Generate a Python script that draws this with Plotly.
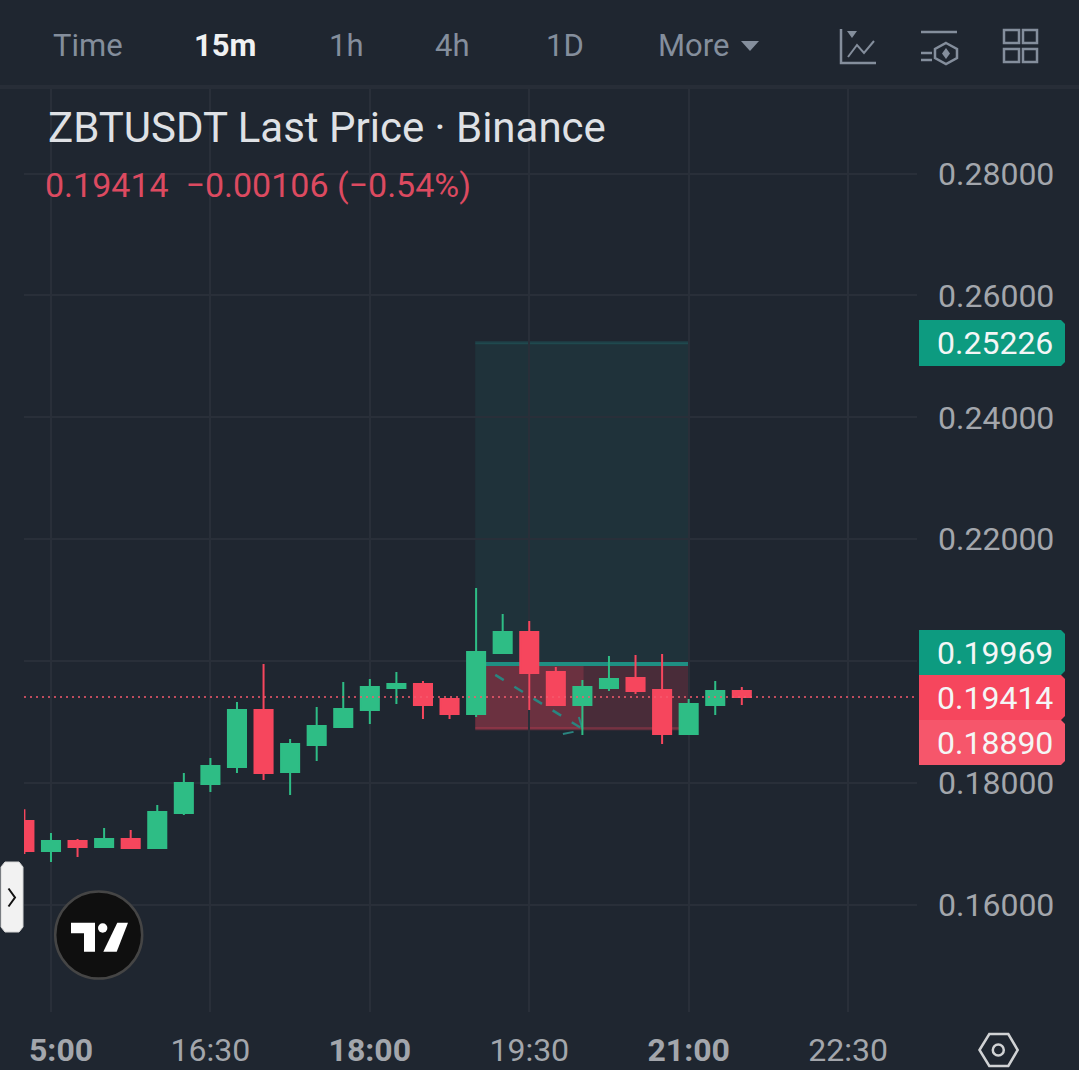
import plotly.graph_objects as go

W, H = 1079, 1070
DAY = "2025-01-01 "

# candles
candle_times = ["14:45", "15:00", "15:15", "15:30", "15:45", "16:00", "16:15", "16:30", "16:45", "17:00",
                "17:15", "17:30", "17:45", "18:00", "18:15", "18:30", "18:45", "19:00", "19:15", "19:30",
                "19:45", "20:00", "20:15", "20:30", "20:45", "21:00", "21:15", "21:30"]
opens = [0.17378, 0.16886, 0.17050, 0.16951, 0.17083, 0.16935, 0.17509, 0.17985, 0.18264, 0.19199,
         0.18182, 0.18625, 0.18920, 0.19199, 0.19560, 0.19626, 0.19380, 0.19134, 0.20135, 0.20479,
         0.19823, 0.19281, 0.19560, 0.19724, 0.19527, 0.18805, 0.19281, 0.19511]
closes = [0.16886, 0.17050, 0.16951, 0.17083, 0.16935, 0.17526, 0.18002, 0.18280, 0.19199, 0.18166,
          0.18641, 0.18937, 0.19216, 0.19577, 0.19626, 0.19281, 0.19134, 0.20151, 0.20479, 0.19806,
          0.19281, 0.19577, 0.19708, 0.19511, 0.18805, 0.19298, 0.19511, 0.19414]
highs = [0.17570, 0.17181, 0.17083, 0.17263, 0.17230, 0.17641, 0.18166, 0.18412, 0.19330, 0.19954,
         0.18724, 0.19249, 0.19659, 0.19708, 0.19823, 0.19675, 0.19380, 0.21201, 0.20774, 0.20660,
         0.19905, 0.19691, 0.20085, 0.20102, 0.20118, 0.19380, 0.19675, 0.19577]
lows = [0.16837, 0.16705, 0.16787, 0.16951, 0.16935, 0.16935, 0.17476, 0.17854, 0.18166, 0.18051,
        0.17805, 0.18362, 0.18920, 0.18970, 0.19298, 0.19052, 0.19052, 0.19084, 0.20135, 0.19199,
        0.19265, 0.18789, 0.19511, 0.19462, 0.18641, 0.18789, 0.19117, 0.19281]

price_ticks = [0.16, 0.18, 0.20, 0.22, 0.24, 0.26, 0.28]
price_labels = ["0.16000", "0.18000", "", "0.22000", "0.24000", "0.26000", "0.28000"]
time_ticks = ["15:00", "16:30", "18:00", "19:30", "21:00", "22:30"]
time_labels = ["", "16:30", "<b>18:00</b>", "19:30", "<b>21:00</b>", "22:30"]
menu_items = ["Time", "<b>15m</b>", "1h", "4h", "1D", "More"]

target_price = 0.25226
entry_price = 0.19969
stop_price = 0.18890
last_price = 0.19414

BG = "#1f2630"
GRID = "#292f39"
UP = "#2ebd85"
DOWN = "#f6465d"
GRAY = "#848e9c"
AXIS_TXT = "#a3a6ac"
FONT = "Roboto"


def px(x):
    return x / W


def py(y):
    return 1 - y / H


def t(hhmm):
    return DAY + hhmm


def path(points, close=True):
    s = "M " + " L ".join(f"{px(x):.5f},{py(y):.5f}" for x, y in points)
    return s + " Z" if close else s


def icon(points, close=True, fill=None, line=GRAY, width=2.5):
    return dict(type="path", xref="paper", yref="paper", path=path(points, close), fillcolor=fill,
                line=dict(color=line, width=width), layer="above")


def circle(cx, cy, r, fill=None, line=None, width=0):
    return dict(type="circle", xref="paper", yref="paper", x0=px(cx - r), x1=px(cx + r), y0=py(cy + r), y1=py(cy - r),
                fillcolor=fill, line=dict(color=line, width=width), layer="above")


def label(text, x, y, size, color, anchor="center"):
    return dict(text=text, xref="paper", yref="paper", x=px(x), y=py(y), xanchor=anchor, yanchor="middle",
                showarrow=False, font=dict(family=FONT, size=size, color=color))


def tag(text, top, bottom, color):
    pts = [(919, top), (1061, top), (1065, top + 4), (1065, bottom - 4), (1061, bottom), (919, bottom)]
    return icon(pts, fill=color, line=color, width=0), label(text, 995, (top + bottom) / 2, 32, "#f4f6f6")


fig = go.Figure(go.Candlestick(
    x=[t(v) for v in candle_times],
    open=opens, high=highs, low=lows, close=closes,
    increasing=dict(line=dict(color=UP, width=2), fillcolor=UP),
    decreasing=dict(line=dict(color=DOWN, width=2), fillcolor=DOWN),
    whiskerwidth=0,
    hoverinfo="skip",
))

# long position tool, arrow and last price line
shapes = [
    dict(type="rect", x0=t("18:59:30"), x1=t("21:00:40"), y0=entry_price, y1=target_price,
         fillcolor="rgba(32,178,170,0.09)", line_width=0, layer="below"),
    dict(type="line", x0=t("18:59:30"), x1=t("21:00:40"), y0=target_price, y1=target_price,
         line=dict(color="rgba(32,178,170,0.18)", width=3), layer="below"),
    dict(type="rect", x0=t("18:59:30"), x1=t("21:00:40"), y0=stop_price, y1=entry_price,
         fillcolor="rgba(246,70,93,0.2)", line_width=0, layer="below"),
    dict(type="rect", x0=t("18:59:30"), x1=t("20:00:40"), y0=stop_price, y1=entry_price,
         fillcolor="rgba(246,70,93,0.2)", line_width=0, layer="below"),
    dict(type="line", x0=t("18:59:30"), x1=t("21:00:40"), y0=stop_price, y1=stop_price,
         line=dict(color="rgba(246,70,93,0.3)", width=3), layer="below"),
    dict(type="line", x0=t("19:00"), x1=t("20:00"), y0=entry_price, y1=stop_price,
         line=dict(color="#2a8580", width=2.5, dash="10px,12.5px"), layer="below"),
    dict(type="line", x0=t("19:58"), x1=t("20:00"), y0=0.19084, y1=stop_price,
         line=dict(color="#2a8580", width=2), layer="below"),
    dict(type="line", x0=t("19:49"), x1=t("19:55"), y0=0.18805, y1=0.18840,
         line=dict(color="#2a8580", width=2), layer="below"),
    dict(type="line", x0=t("19:00"), x1=t("21:00:40"), y0=entry_price, y1=entry_price,
         line=dict(color="#1f8f83", width=6), layer="below"),
    dict(type="line", xref="paper", x0=px(24), x1=px(917), y0=last_price, y1=last_price,
         line=dict(color="rgba(246,90,110,0.75)", width=2, dash="2px,4px"), layer="above"),
    # toolbar separator
    dict(type="rect", xref="paper", yref="paper", x0=0, x1=1, y0=py(89), y1=py(85),
         fillcolor="#272d37", line_width=0, layer="above"),
    # toolbar icons
    icon([(750 - 9, 41), (750 + 9, 41), (750, 51)], fill=GRAY, line=GRAY, width=0),
    icon([(841, 29), (841, 63), (876, 63)], close=False),
    icon([(847, 31), (857, 31), (852, 38)], fill=GRAY, line=GRAY, width=0),
    icon([(848, 57), (857, 45), (864, 53), (874, 41)], close=False, width=2),
    icon([(921, 32), (957, 32)], close=False),
    icon([(921, 53), (932, 53)], close=False),
    icon([(921, 60), (932, 60)], close=False),
    icon([(946, 43), (957, 49), (957, 58), (946, 64), (935, 58), (935, 49)]),
    icon([(946, 48), (950, 53.5), (946, 59), (942, 53.5)], fill=GRAY, line=GRAY, width=0),
    icon([(1004, 30), (1019, 30), (1019, 43), (1004, 43)]),
    icon([(1023, 30), (1037, 30), (1037, 43), (1023, 43)]),
    icon([(1004, 49), (1019, 49), (1019, 62), (1004, 62)]),
    icon([(1023, 49), (1037, 49), (1037, 62), (1023, 62)]),
    # side handle
    icon([(5, 862), (19, 862), (23, 867), (23, 927), (19, 932), (5, 932), (1, 927), (1, 867)],
         fill="#f2f2f2", line="#d5d5d5", width=1),
    icon([(8.5, 888.5), (15, 897.5), (8.5, 906.5)], close=False, line="#111111", width=2),
    # logo
    circle(98.7, 935, 43.5, fill="#0f0f0f", line="#454545", width=2.5),
    icon([(71, 922.7), (95, 922.7), (95, 951.7), (84, 951.7), (84, 933.3), (71, 933.3)],
         fill="#ffffff", line="#ffffff", width=0),
    circle(102.7, 928, 4.7, fill="#ffffff"),
    icon([(117.3, 922.7), (128, 922.7), (116.7, 951.7), (103.3, 951.7)], fill="#ffffff", line="#ffffff", width=0),
    # settings hexagon
    icon([(979.5, 1050), (989.3, 1034), (1008.3, 1034), (1017.7, 1050), (1008.3, 1066), (989.3, 1066)],
         line="#d0d2d4", width=2.5),
    circle(998.3, 1050, 5.5, line="#d0d2d4", width=2.5),
]

annotations = [
    label("ZBTUSDT Last Price · Binance", 46, 128, 42, "#dfe1e5", "left"),
    label("0.19414  −0.00106 (−0.54%)", 43, 185, 34, "#dc4a60", "left"),
    # fixed box height, a taller one near the page edge pushes the plot up
    dict(label("<b>5:00</b>", 28, 1050, 32, AXIS_TXT, "left"), height=30, borderpad=0),
]
for text, x in zip(menu_items, [88, 225, 346, 453, 565, 693]):
    annotations.append(label(text, x, 46, 31, "#f0f1f2" if text.startswith("<b>") else GRAY))

for text, top, bottom, color in [("0.25226", 320, 366, "#0d9b80"), ("0.19969", 630, 675, "#0d9b80"),
                                 ("0.19414", 675, 720, DOWN), ("0.18890", 720, 765, "#f6566b")]:
    shape, note = tag(text, top, bottom, color)
    shapes.append(shape)
    annotations.append(note)

fig.update_layout(
    width=W, height=H,
    margin=dict(l=0, r=0, t=0, b=0),
    paper_bgcolor=BG, plot_bgcolor=BG,
    showlegend=False,
    boxgap=0.32, boxgroupgap=0,
    shapes=shapes, annotations=annotations,
    font=dict(family=FONT),
)
fig.update_xaxes(
    type="date", domain=[px(24), px(917)],
    range=[t("14:44:46"), t("23:08:54")],
    rangeslider_visible=False, automargin=False,
    tickmode="array", tickvals=[t(v) for v in time_ticks], ticktext=time_labels,
    tickfont=dict(family=FONT, size=32, color=AXIS_TXT),
    ticks="", ticklabelstandoff=16,
    showgrid=True, gridcolor=GRID, gridwidth=2, zeroline=False, showline=False,
)
fig.update_yaxes(
    side="right", domain=[py(1012), py(88)],
    range=[0.14244, 0.29404], automargin=False,
    tickmode="array", tickvals=price_ticks, ticktext=price_labels,
    tickfont=dict(family=FONT, size=32, color=AXIS_TXT),
    ticks="", ticklabelstandoff=20,
    showgrid=True, gridcolor=GRID, gridwidth=2, zeroline=False, showline=False,
)

fig.write_html("out.html", config=dict(displayModeBar=False), post_script="document.body.style.margin='0';")
